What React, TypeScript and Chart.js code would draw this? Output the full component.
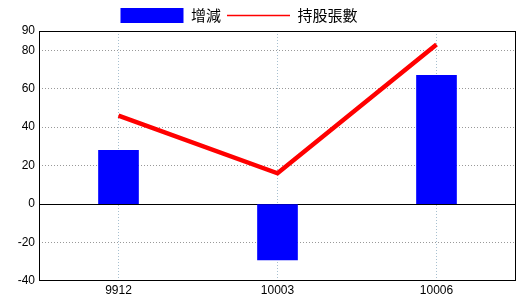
import React, { useEffect, useRef } from "react";
import { Chart, registerables } from "chart.js";

Chart.register(...registerables);

const categories = ["9912", "10003", "10006"];
const changeValues = [28, -29, 67];
const holdingValues = [46, 16, 83];
const yTicks = [-40, -20, 0, 20, 40, 60, 80, 90];
const seriesNames = ["增減", "持股張數"];

const framePlugin = {
  id: "frame",
  afterLayout(chart: any) {
    const lg = chart.legend;
    if (lg) {
      lg.left -= 19;
      lg.right -= 19;
      lg.top += 2;
      lg.bottom += 2;
    }
  },
  beforeDatasetsDraw(chart: any) {
    const { ctx, chartArea } = chart;
    const y0 = Math.round(chart.scales.y.getPixelForValue(0)) + 0.5;
    ctx.save();
    ctx.strokeStyle = "#000";
    ctx.lineWidth = 1;
    ctx.setLineDash([]);
    ctx.beginPath();
    ctx.moveTo(chartArea.left, y0);
    ctx.lineTo(chartArea.right, y0);
    ctx.stroke();
    ctx.restore();
  },
  afterDraw(chart: any) {
    const { ctx, chartArea } = chart;
    ctx.save();
    ctx.strokeStyle = "#000";
    ctx.lineWidth = 1;
    ctx.setLineDash([]);
    const l = Math.round(chartArea.left) + 0.5;
    const t = Math.round(chartArea.top) + 0.5;
    const r = Math.round(chartArea.right) - 0.5;
    const b = Math.round(chartArea.bottom) - 0.5;
    ctx.strokeRect(l, t, r - l, b - t);
    ctx.restore();
  },
};

export default function App() {
  const ref = useRef<HTMLCanvasElement>(null);
  useEffect(() => {
    const chart = new Chart(ref.current as HTMLCanvasElement, {
      data: {
        labels: categories,
        datasets: [
          {
            type: "bar",
            label: seriesNames[0],
            data: changeValues,
            backgroundColor: "#0000ff",
            borderWidth: 0,
            barThickness: 40,
            order: 2,
          },
          {
            type: "line",
            label: seriesNames[1],
            data: holdingValues,
            borderColor: "#ff0000",
            backgroundColor: "#ff0000",
            borderWidth: 4.5,
            pointRadius: 0,
            tension: 0,
            order: 1,
          },
        ],
      } as any,
      options: {
        animation: false,
        responsive: false,
        maintainAspectRatio: false,
        layout: { padding: { top: 0, right: 4, left: 0, bottom: 0 } },
        plugins: {
          tooltip: { enabled: false },
          legend: {
            position: "top",
            labels: {
              color: "#000",
              font: { family: "'Noto Sans CJK TC'", size: 15 },
              padding: 6,
              boxHeight: 16,
              usePointStyle: true,
              pointStyleWidth: 63,
              generateLabels: () => [
                {
                  text: seriesNames[0],
                  fillStyle: "#0000ff",
                  strokeStyle: "#0000ff",
                  lineWidth: 0,
                  pointStyle: "rect",
                  datasetIndex: 0,
                  fontColor: "#000",
                },
                {
                  text: seriesNames[1],
                  fillStyle: "#ff0000",
                  strokeStyle: "#ff0000",
                  lineWidth: 1.5,
                  pointStyle: "line",
                  datasetIndex: 1,
                  fontColor: "#000",
                },
              ],
            },
          },
        },
        scales: {
          x: {
            type: "category",
            offset: true,
            grid: {
              offset: false,
              color: "#a8c0d0",
              drawTicks: false,
            },
            border: { display: false, dash: [1, 2] },
            ticks: {
              color: "#000",
              font: { family: "'Liberation Sans'", size: 12 },
              padding: 2,
              maxRotation: 0,
            },
            afterFit: (s: any) => {
              s.height = 19;
            },
          },
          y: {
            type: "linear",
            min: -40,
            max: 90,
            grid: {
              color: (c: any) =>
                c.tick && (c.tick.value === 0 || c.tick.value === 90 || c.tick.value === -40)
                  ? "rgba(0,0,0,0)"
                  : "#999999",
              drawTicks: false,
            },
            border: { display: false, dash: [1, 2] },
            afterBuildTicks: (s: any) => {
              s.ticks = yTicks.map((v) => ({ value: v }));
            },
            ticks: {
              color: "#000",
              font: { family: "'Liberation Sans'", size: 12 },
              padding: 4,
            },
            afterFit: (s: any) => {
              s.width = 39;
            },
          },
        },
      } as any,
      plugins: [framePlugin],
    });
    return () => chart.destroy();
  }, []);
  return (
    <div style={{ position: "fixed", left: 0, top: 0, width: 520, height: 300, background: "#fff" }}>
      <canvas ref={ref} width={520} height={300} style={{ width: 520, height: 300 }} />
    </div>
  );
}
